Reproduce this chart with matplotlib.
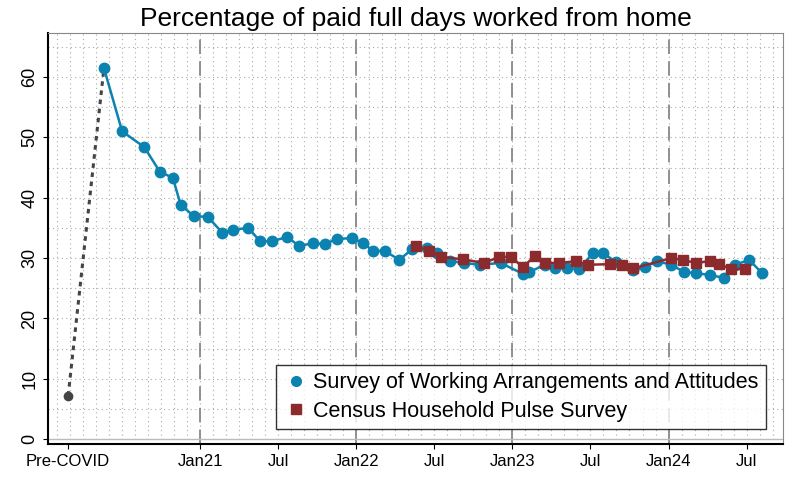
import matplotlib
matplotlib.use("Agg")
import matplotlib.pyplot as plt
from matplotlib.lines import Line2D
import numpy as np

plt.rcParams["font.family"] = "Liberation Sans"

# x in months since Jan 2020 (Jan21 = 12)
pre_x, pre_y = 1.85, 7.2
swaa_x = [4.6,6.0,7.7,8.9,9.9,10.5,11.5,12.6,13.7,14.5,15.7,16.6,17.5,18.7,19.6,20.7,21.6,22.5,23.7,24.5,25.3,26.2,27.3,28.3,
          29.4,30.2,31.2,32.3,33.5,35.1,36.8,37.3,38.5,39.3,40.2,41.1,42.2,43.0,44.0,45.3,46.2,47.1,48.2,49.2,50.1,51.2,52.3,53.1,54.2,55.2]
swaa_y = [61.5,51.0,48.4,44.3,43.3,38.8,37.0,36.8,34.2,34.7,35.0,32.8,32.8,33.5,32.0,32.5,32.3,33.2,33.3,32.5,31.2,31.2,29.7,31.5,
          31.6,30.8,29.5,29.2,28.9,29.2,27.4,27.7,28.9,28.3,28.3,28.2,30.8,30.8,29.3,28.0,28.5,29.5,28.9,27.7,27.5,27.2,26.7,28.9,29.7,27.5]
hps_x = [28.6,29.6,30.5,32.2,33.8,35.0,35.9,36.8,37.7,38.5,39.6,40.9,41.8,43.5,44.4,45.3,48.2,49.1,50.1,51.2,51.9,52.8,53.9]
hps_y = [32.0,31.2,30.2,29.8,29.2,30.2,30.2,28.5,30.3,29.2,29.2,29.5,28.9,29.0,28.9,28.3,30.0,29.7,29.2,29.5,29.0,28.2,28.2]
tick_pos = [pre_x,12,18,24,30,36,42,48,54]
tick_labels = ["Pre-COVID","Jan21","Jul","Jan22","Jul","Jan23","Jul","Jan24","Jul"]

blue = "#0b82b0"; red = "#8b2b2e"
fig = plt.figure(figsize=(7.98,4.88), dpi=100)
ax = fig.add_axes([48/798, 44/488, 735/798, 411/488])
ax.set_xlim(0.3, 56.8); ax.set_ylim(-0.8, 67.3)
for m in np.arange(1,57,1.0):
    ax.axvline(m, color="#aaaaaa", ls=(0,(1,3)), lw=0.8, zorder=0)
for v in np.arange(5,66,5):
    ax.axhline(v, color="#aaaaaa", ls=(0,(1,3)), lw=0.8, zorder=0)
for j in [12,24,36,48]:
    ax.axvline(j, color="#888888", ls=(0,(8,4)), lw=1.3, zorder=1)
ax.axhline(0, color="#bbbbbb", lw=1, zorder=1)
ax.plot([pre_x, swaa_x[0]], [pre_y, swaa_y[0]], ls=(0,(1.5,1.5)), color="#444444", lw=2.2, zorder=2)
ax.plot([pre_x],[pre_y], "o", color="#444444", ms=6, zorder=3)
ax.plot(swaa_x, swaa_y, "-o", color=blue, lw=1.8, ms=7.5, zorder=3)
ax.plot(hps_x, hps_y, "-s", color=red, lw=1.8, ms=7.5, zorder=4)
ax.set_xticks(tick_pos); ax.set_xticklabels(tick_labels, fontsize=12)
ax.set_yticks(range(0,61,10))
ax.set_yticklabels([str(v) for v in range(0,61,10)], rotation=90, va="center", fontsize=13)
for s in ["top","right"]:
    ax.spines[s].set_color("#888888")
ax.spines["left"].set_linewidth(1.5); ax.spines["bottom"].set_linewidth(1.5)
ax.set_title("Percentage of paid full days worked from home", fontsize=19, pad=5)
handles = [Line2D([],[],ls="none",marker="o",color=blue,ms=7),
           Line2D([],[],ls="none",marker="s",color=red,ms=7)]
leg = ax.legend(handles, ["Survey of Working Arrangements and Attitudes","Census Household Pulse Survey"],
                loc="lower right", bbox_to_anchor=(0.992, 0.01), fontsize=15.5, frameon=True,
                fancybox=False, edgecolor="black", handletextpad=0.2, handlelength=1.2,
                borderpad=0.35, labelspacing=0.35)
leg.get_frame().set_linewidth(1)
fig.savefig("out.png", dpi=100)
